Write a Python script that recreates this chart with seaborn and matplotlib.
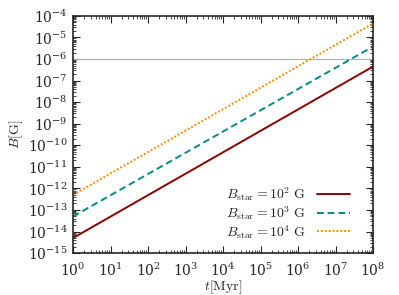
import numpy as np
import pandas as pd
import matplotlib
matplotlib.use("Agg")
import matplotlib.pyplot as plt
import seaborn as sns
from matplotlib.ticker import LogLocator, NullFormatter

# Data (straight lines in log-log space)
t_myr = [1e0, 1e8]
B_1e2 = [5.0e-15, 4.5e-7]
B_1e3 = [5.0e-14, 3.8e-6]
B_1e4 = [5.0e-13, 4.5e-5]
labels = [r"$B_{\rm star} = 10^2\ {\rm G}$",
          r"$B_{\rm star} = 10^3\ {\rm G}$",
          r"$B_{\rm star} = 10^4\ {\rm G}$"]
B_ref = 1e-6

rows = []
for lab, vals in zip(labels, [B_1e2, B_1e3, B_1e4]):
    for t, b in zip(t_myr, vals):
        rows.append({"t": t, "B": b, "series": lab})
df = pd.DataFrame(rows)

sns.set_style("ticks")
plt.rcParams["mathtext.fontset"] = "cm"
plt.rcParams["font.family"] = ["DejaVu Serif"]
plt.rcParams["xtick.direction"] = "in"
plt.rcParams["ytick.direction"] = "in"

fig, ax = plt.subplots(figsize=(3.99, 2.95), dpi=100)
fig.subplots_adjust(left=0.183, right=0.935, top=0.946, bottom=0.142)

ax.axhline(B_ref, color="#b0b0b0", lw=0.8, zorder=1)

palette = {labels[0]: "#8b0000", labels[1]: "#008b8b", labels[2]: "#ff8c00"}
dashes = {labels[0]: "", labels[1]: (3.5, 2), labels[2]: (1, 1)}
sns.lineplot(data=df, x="t", y="B", hue="series", style="series",
             palette=palette, dashes=dashes, linewidth=1.4, ax=ax,
             legend=True)

ax.set_xscale("log")
ax.set_yscale("log")
ax.set_xlim(1e0, 1e8)
ax.set_ylim(1e-15, 1e-4)
ax.xaxis.set_major_locator(LogLocator(base=10, numticks=20))
ax.yaxis.set_major_locator(LogLocator(base=10, numticks=20))
ax.xaxis.set_minor_locator(LogLocator(base=10, subs=np.arange(2, 10), numticks=20))
ax.yaxis.set_minor_locator(LogLocator(base=10, subs=np.arange(2, 10), numticks=20))
ax.xaxis.set_minor_formatter(NullFormatter())
ax.yaxis.set_minor_formatter(NullFormatter())
ax.tick_params(which="both", direction="in", top=True, right=True, labelsize=10)
ax.tick_params(axis="x", which="major", pad=6)
ax.tick_params(axis="y", which="major", pad=4)
ax.tick_params(which="major", length=5, width=0.8)
ax.tick_params(which="minor", length=2.5, width=0.6)
for s in ax.spines.values():
    s.set_linewidth(1.2)

ax.set_xlabel(r"$t[{\rm Myr}]$", fontsize=10, labelpad=0)
ax.set_ylabel(r"$B[{\rm G}]$", fontsize=10, labelpad=2)

h, l = ax.get_legend_handles_labels()
ax.legend(h, l, loc="lower right", frameon=False, markerfirst=False,
          fontsize=10, handlelength=2.4, labelspacing=0.05,
          bbox_to_anchor=(0.965, 0.0))

fig.savefig("out.png", dpi=100)
